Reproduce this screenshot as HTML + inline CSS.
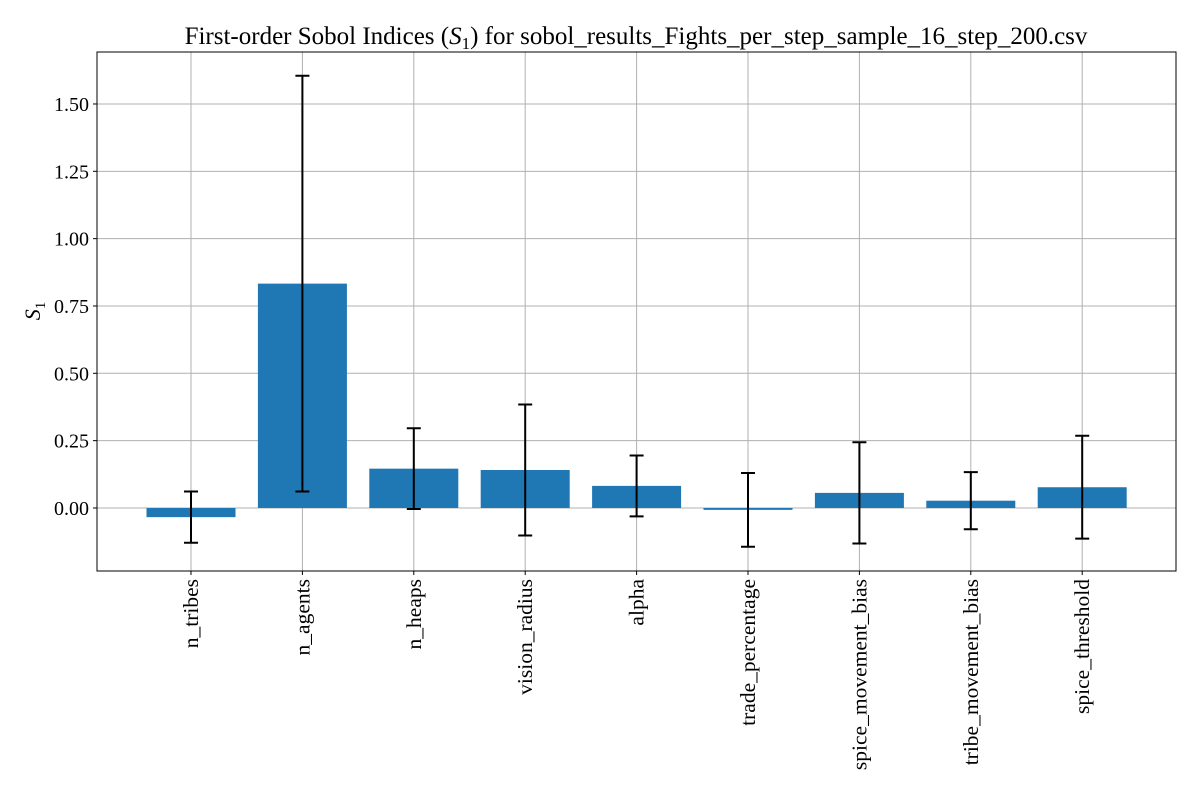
<!DOCTYPE html>
<html><head><meta charset="utf-8">
<style>
body{margin:0;background:#fff;}
svg text{font-family:"Liberation Serif",serif;fill:#000;}
</style></head>
<body>
<svg id="chart" width="1200" height="800" xmlns="http://www.w3.org/2000/svg">
<rect width="1200" height="800" fill="#fff"/>
<g id="grid"></g>
<g id="bars"></g>
<g id="errs"></g>
<rect x="97" y="52" width="1079" height="519" fill="none" stroke="#000" stroke-width="1"/>
<g id="yticks"></g>
<g id="xticks"></g>
<text x="636" y="44" font-size="25" text-anchor="middle">First-order Sobol Indices (<tspan font-style="italic">S</tspan><tspan font-size="17" dy="5">1</tspan><tspan dy="-5">) for sobol_results_Fights_per_step_sample_16_step_200.csv</tspan></text>
<text transform="translate(40,311) rotate(-90)" font-size="22" text-anchor="middle"><tspan font-style="italic">S</tspan><tspan font-size="15" dy="5">1</tspan></text>
</svg>
<script>
const categories=["n_tribes","n_agents","n_heaps","vision_radius","alpha","trade_percentage","spice_movement_bias","tribe_movement_bias","spice_threshold"];
const s1Values=[-0.034,0.833,0.146,0.141,0.082,-0.007,0.056,0.027,0.077];
const confValues=[0.095,0.772,0.150,0.243,0.113,0.137,0.188,0.106,0.191];
const yTicks=[0,0.25,0.5,0.75,1.0,1.25,1.5];
const yTickLabels=["0.00","0.25","0.50","0.75","1.00","1.25","1.50"];
const ns="http://www.w3.org/2000/svg";
const L=97,R=1176,T=52,B=571,yMin=-0.234,yMax=1.693;
const y=v=>B-(v-yMin)/(yMax-yMin)*(B-T);
const x=i=>191+i*111.4;
const bw=89;
function mk(tag,a,parent){const e=document.createElementNS(ns,tag);for(const k in a)e.setAttribute(k,a[k]);document.getElementById(parent).appendChild(e);return e;}
yTicks.forEach((v,i)=>{
 const g=mk('line',{x1:L,x2:R,y1:y(v),y2:y(v),stroke:'#b0b0b0','stroke-width':1},'grid');
 
 
 mk('line',{x1:L-4,x2:L,y1:y(v),y2:y(v),stroke:'#000'},'yticks');
 const t=mk('text',{x:L-8,y:y(v)+7,'font-size':20,'text-anchor':'end'},'yticks');
 t.textContent=yTickLabels[i];
 
 
});
categories.forEach((c,i)=>{
 const cx=x(i);
 const g=mk('line',{x1:cx,x2:cx,y1:T,y2:B,stroke:'#b0b0b0','stroke-width':1},'grid');
 
 
 const v=s1Values[i];
 const b=mk('rect',{x:cx-bw/2,y:Math.min(y(v),y(0)),width:bw,height:Math.max(1.5,Math.abs(y(v)-y(0))),fill:'#1f77b4'},'bars');
 
 
 const lo=y(v-confValues[i]),hi=y(v+confValues[i]);
 const e=mk('path',{d:`M${cx},${lo}V${hi}M${cx-7},${lo}H${cx+7}M${cx-7},${hi}H${cx+7}`,stroke:'#000','stroke-width':2,fill:'none'},'errs');
 
 
 mk('line',{x1:cx,x2:cx,y1:B,y2:B+4,stroke:'#000'},'xticks');
 const t=mk('text',{transform:`translate(${cx+7},${B+8}) rotate(-90)`,'font-size':21.5,'text-anchor':'end'},'xticks');
 t.textContent=c;
 
 
});
</script>
</body></html>
